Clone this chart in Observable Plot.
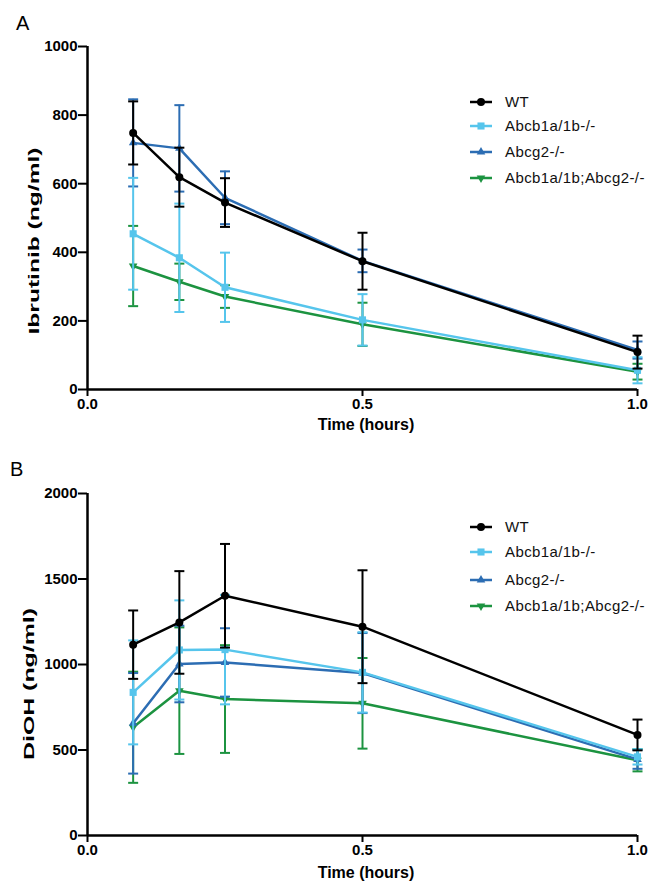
<!DOCTYPE html>
<html>
<head>
<meta charset="utf-8">
<script src="https://cdn.jsdelivr.net/npm/d3@7"></script>
<script src="https://cdn.jsdelivr.net/npm/@observablehq/plot@0.6"></script>
<style>
  body { margin: 0; background: #fff; }
  #wrap { position: relative; width: 651px; height: 881px; overflow: hidden; font-family: "Liberation Sans", Arial, sans-serif; }
  .panel { position: absolute; left: 0; }
  .letter { position: absolute; font-size: 20px; line-height: 1; color: #000; }
  .legend { position: absolute; left: 470px; font-size: 15px; letter-spacing: 0.4px; color: #111; }
  .legend .row { position: absolute; left: 0; white-space: nowrap; height: 20px; }
  .legend svg { position: absolute; left: 0; top: 0; }
  .legend span { position: absolute; left: 35px; top: 1px; }
  .plot-tick-labels text, svg text { }
</style>
</head>
<body>
<div id="wrap">
  <div id="pa" class="panel" style="top:0"></div>
  <div id="pb" class="panel" style="top:440px"></div>
  <div class="letter" style="left:16px;top:13px">A</div>
  <div class="letter" style="left:10px;top:459px">B</div>
  <div id="lega" class="legend" style="top:0"></div>
  <div id="legb" class="legend" style="top:440px"></div>
</div>
<script>
// ---- data ----
const times = [0.083, 0.167, 0.25, 0.5, 1.0];
const seriesNames = ["WT", "Abcb1a/1b-/-", "Abcg2-/-", "Abcb1a/1b;Abcg2-/-"];

// Ibrutinib plasma concentration (ng/ml), mean and SD
const ibrWT = [748, 619, 545, 374, 109];
const ibrWTsd = [92, 86, 71, 83, 48];
const ibrP = [454, 384, 298, 203, 56];
const ibrPsd = [163, 158, 101, 75, 38];
const ibrB = [719, 703, 559, 375, 115];
const ibrBsd = [127, 126, 77, 33, 25];
const ibrPB = [360, 314, 271, 190, 52];
const ibrPBsd = [117, 53, 33, 63, 23];

// DiOH plasma concentration (ng/ml), mean and SD
const dioWT = [1116, 1246, 1402, 1221, 588];
const dioWTsd = [200, 300, 303, 330, 90];
const dioP = [837, 1085, 1087, 954, 460];
const dioPsd = [304, 290, 320, 235, 45];
const dioB = [656, 1003, 1012, 950, 445];
const dioBsd = [294, 224, 200, 234, 55];
const dioPB = [633, 847, 798, 773, 440];
const dioPBsd = [325, 370, 315, 265, 65];

const yTicksA = [0, 200, 400, 600, 800, 1000];
const yTicksB = [0, 500, 1000, 1500, 2000];
const xTicks = [0, 0.5, 1.0];

// ---- styles ----
const seriesColors = ["#000000", "#56C5EC", "#2C6DB3", "#1C9340"];
const seriesSymbols = ["circle", "square", "triangle", "triangle"];
const seriesRotate = [0, 0, 0, 180];
const seriesR = [4, 4, 3.2, 3.2];
const drawOrder = [3, 2, 1, 0];
const FONT = '"Liberation Sans", Arial, sans-serif';

const capSymbol = {
  draw(ctx, size) {
    const w = Math.sqrt(size / Math.PI);
    ctx.moveTo(-w, 0);
    ctx.lineTo(w, 0);
  }
};

function buildRows(means, sds) {
  return means.map((m, s) => m.map((v, i) => ({series: seriesNames[s], t: times[i], y: v, lo: v - sds[s][i], hi: v + sds[s][i]})));
}

function panel(opts) {
  const rows = buildRows(opts.means, opts.sds);
  const marks = [
    Plot.axisY({ticks: opts.yTicks, tickFormat: d => String(d), tickSize: 9, tickPadding: 1, strokeWidth: 2, label: null}),
    Plot.axisX({ticks: xTicks, tickFormat: ".1f", tickSize: 7, tickPadding: 2, strokeWidth: 2, label: null}),
    Plot.ruleX([0], {strokeWidth: 2.5}),
    Plot.ruleY([0], {strokeWidth: 2.5})
  ];
  for (const s of drawOrder) {
    const d = rows[s];
    const c = seriesColors[s];
    marks.push(
      Plot.ruleX(d, {x: "t", y1: "lo", y2: "hi", stroke: c, strokeWidth: 2}),
      Plot.dot(d, {x: "t", y: "lo", symbol: capSymbol, r: 5, stroke: c, fill: "none", strokeWidth: 2}),
      Plot.dot(d, {x: "t", y: "hi", symbol: capSymbol, r: 5, stroke: c, fill: "none", strokeWidth: 2}),
      Plot.line(d, {x: "t", y: "y", stroke: c, strokeWidth: 2.5}),
      Plot.dot(d, {x: "t", y: "y", symbol: seriesSymbols[s], rotate: seriesRotate[s], r: seriesR[s], fill: c, stroke: "none"})
    );
  }
  const svg = Plot.plot({
    width: 651,
    height: opts.height,
    marginLeft: 87,
    marginRight: 14,
    marginTop: opts.marginTop,
    marginBottom: opts.marginBottom,
    x: {domain: [0, 1]},
    y: {domain: opts.yDomain},
    style: {fontFamily: FONT, fontSize: "15px", fontWeight: "bold", color: "#000", background: "#fff", overflow: "visible"},
    marks
  });
  const sel = d3.select(svg);
  sel.append("text")
    .attr("transform", `translate(${opts.yLabelX},${opts.yLabelY}) rotate(-90)`)
    .attr("text-anchor", "middle")
    .attr("dominant-baseline", "central")
    .attr("font-family", FONT)
    .attr("font-weight", "bold")
    .attr("font-size", 15)
    .attr("fill", "#000")
    .attr("textLength", opts.yLabelLen)
    .attr("lengthAdjust", "spacingAndGlyphs")
    .text(opts.yLabel);
  sel.append("text")
    .attr("x", 366)
    .attr("y", opts.xLabelY)
    .attr("text-anchor", "middle")
    .attr("font-family", FONT)
    .attr("font-weight", "bold")
    .attr("font-size", 16)
    .attr("fill", "#000")
    .text("Time (hours)");
  return svg;
}

document.getElementById("pa").append(panel({
  height: 440, marginTop: 46, marginBottom: 51,
  yDomain: [0, 1000], yTicks: yTicksA,
  means: [ibrWT, ibrP, ibrB, ibrPB], sds: [ibrWTsd, ibrPsd, ibrBsd, ibrPBsd],
  yLabel: "Ibrutinib (ng/ml)", yLabelX: 33, yLabelY: 241, yLabelLen: 187,
  xLabelY: 430
}));
document.getElementById("pb").append(panel({
  height: 441, marginTop: 53, marginBottom: 46,
  yDomain: [0, 2000], yTicks: yTicksB,
  means: [dioWT, dioP, dioB, dioPB], sds: [dioWTsd, dioPsd, dioBsd, dioPBsd],
  yLabel: "DiOH (ng/ml)", yLabelX: 28, yLabelY: 244, yLabelLen: 152,
  xLabelY: 438
}));

// ---- legends ----
function legend(el, rowCenters) {
  seriesNames.forEach((name, s) => {
    const row = document.createElement("div");
    row.className = "row";
    row.style.top = (rowCenters[s] - 10) + "px";
    const ns = "http://www.w3.org/2000/svg";
    const svg = document.createElementNS(ns, "svg");
    svg.setAttribute("width", 24);
    svg.setAttribute("height", 20);
    const line = document.createElementNS(ns, "line");
    line.setAttribute("x1", 0); line.setAttribute("x2", 22);
    line.setAttribute("y1", 10); line.setAttribute("y2", 10);
    line.setAttribute("stroke", seriesColors[s]);
    line.setAttribute("stroke-width", 2.5);
    svg.appendChild(line);
    const symType = {circle: d3.symbolCircle, square: d3.symbolSquare, triangle: d3.symbolTriangle}[seriesSymbols[s]];
    const p = document.createElementNS(ns, "path");
    p.setAttribute("d", d3.symbol(symType, seriesR[s] * seriesR[s] * Math.PI)());
    p.setAttribute("transform", `translate(11,10) rotate(${seriesRotate[s]})`);
    p.setAttribute("fill", seriesColors[s]);
    svg.appendChild(p);
    row.appendChild(svg);
    const span = document.createElement("span");
    span.textContent = name;
    row.appendChild(span);
    el.appendChild(row);
  });
}
legend(document.getElementById("lega"), [101.5, 125.5, 151.5, 178]);
legend(document.getElementById("legb"), [87, 112, 140, 166]);
</script>
</body>
</html>
